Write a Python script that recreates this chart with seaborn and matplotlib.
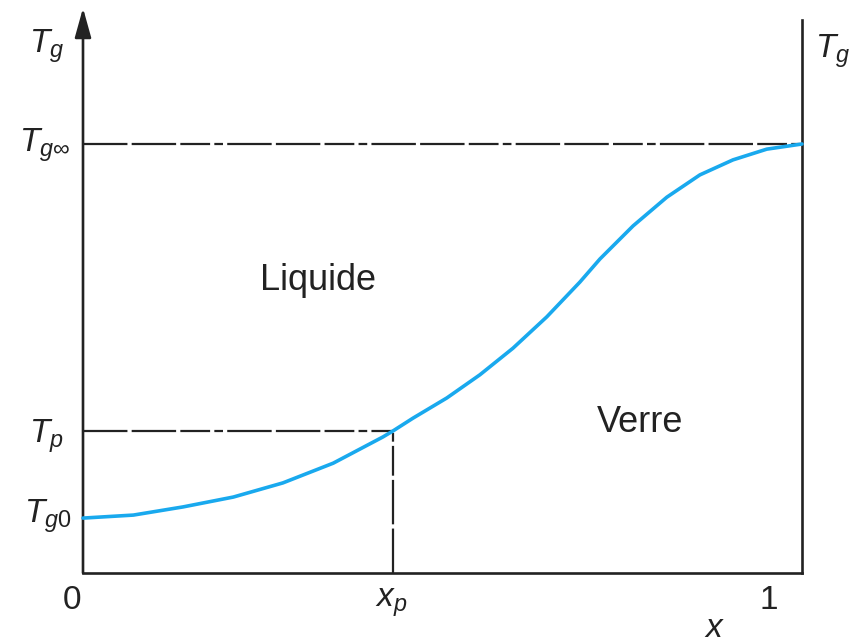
import matplotlib
matplotlib.use("Agg")
import matplotlib.pyplot as plt
import seaborn as sns
import pandas as pd

# Glass transition temperature Tg as a function of conversion x (normalised units)
x_conv = [0.000, 0.070, 0.139, 0.209, 0.278, 0.348, 0.417, 0.431, 0.459, 0.506,
          0.552, 0.598, 0.645, 0.691, 0.719, 0.765, 0.812, 0.858, 0.904, 0.951, 1.000]
tg_curve = [0.128, 0.135, 0.154, 0.177, 0.210, 0.256, 0.317, 0.331, 0.361, 0.408,
            0.462, 0.524, 0.597, 0.678, 0.732, 0.809, 0.876, 0.928, 0.963, 0.988, 1.000]

tg0 = 0.128     # Tg of the unreacted system
tg_inf = 1.0    # Tg of the fully cured network
x_p = 0.431     # conversion at point p
t_p = 0.331     # Tg at point p

x_tick_labels = ["0", "1"]
region_labels = ["Liquide", "Verre"]

sns.set_theme(style="white")
plt.rcParams["font.family"] = ["Liberation Sans", "DejaVu Sans"]
plt.rcParams["mathtext.fontset"] = "custom"
plt.rcParams["mathtext.rm"] = "Liberation Sans"
plt.rcParams["mathtext.it"] = "Liberation Sans:italic"
plt.rcParams["mathtext.sf"] = "Liberation Sans"

W, H = 852, 643
fig = plt.figure(figsize=(W / 100, H / 100), dpi=100)
left_px, right_px, bottom_px, top_px = 83, 802, 573, 8
ax = fig.add_axes([left_px / W, 1 - bottom_px / H,
                   (right_px - left_px) / W, (bottom_px - top_px) / H])

y_top = (bottom_px - top_px) / 429.0
ax.set_xlim(0, 1)
ax.set_ylim(0, y_top)

df = pd.DataFrame({"x": x_conv, "Tg": tg_curve})
sns.lineplot(data=df, x="x", y="Tg", ax=ax, color="#19a9ee", lw=2.6,
             clip_on=False, zorder=4, solid_joinstyle="round")

dash = (0, (20, 1.9, 20, 1.9, 13.4, 1.9, 3.9, 1.9))
ax.plot([0, 1], [tg_inf, tg_inf], color="#222222", lw=1.6, linestyle=dash, zorder=2)
ax.plot([0, x_p], [t_p, t_p], color="#222222", lw=1.6, linestyle=dash, zorder=2)
ax.plot([x_p, x_p], [0, t_p], color="#222222", lw=1.6, linestyle=dash, zorder=2)

# Frame: left axis with arrow, bottom axis, right axis
ax.spines["top"].set_visible(False)
ax.spines["left"].set_visible(False)
for s in ["bottom", "right"]:
    ax.spines[s].set_color("#222222")
    ax.spines[s].set_linewidth(1.9)
ax.spines["right"].set_bounds(0, 1.289)
ax.annotate("", xy=(0, y_top), xytext=(0, 0), xycoords="data",
            arrowprops=dict(arrowstyle="-|>,head_length=1.8,head_width=0.5",
                            mutation_scale=10, lw=1.9, color="#222222",
                            shrinkA=0, shrinkB=0),
            annotation_clip=False)

ax.set_xticks([])
ax.set_yticks([])
ax.set_xlabel("")
ax.set_ylabel("")


def px(xp_, yp_):
    return ((xp_ - left_px) / 719.0, (bottom_px - yp_) / 429.0)


fs = 24
txt = dict(color="#222222", clip_on=False)
ax.text(*px(64, 53), r"$T_g$", ha="right", va="baseline", fontsize=fs, **txt)
ax.text(*px(70, 152), r"$T_{g\infty}$", ha="right", va="baseline", fontsize=fs, **txt)
ax.text(*px(64, 443), r"$T_p$", ha="right", va="baseline", fontsize=fs, **txt)
ax.text(*px(72, 523), r"$T_{g0}$", ha="right", va="baseline", fontsize=fs, **txt)
ax.text(*px(815, 58), r"$T_g$", ha="left", va="baseline", fontsize=fs, **txt)

ax.text(*px(72, 609), x_tick_labels[0], ha="center", va="baseline", fontsize=fs, **txt)
ax.text(*px(769, 609), x_tick_labels[1], ha="center", va="baseline", fontsize=fs, **txt)
ax.text(*px(391, 607), r"$x_p$", ha="center", va="baseline", fontsize=fs, **txt)
ax.text(*px(715, 637), r"$x$", ha="center", va="baseline", fontsize=fs, **txt)

ax.text(*px(318, 290), region_labels[0], ha="center", va="baseline", fontsize=26, **txt)
ax.text(*px(640, 432), region_labels[1], ha="center", va="baseline", fontsize=26, **txt)

fig.savefig("out.png", dpi=100)
